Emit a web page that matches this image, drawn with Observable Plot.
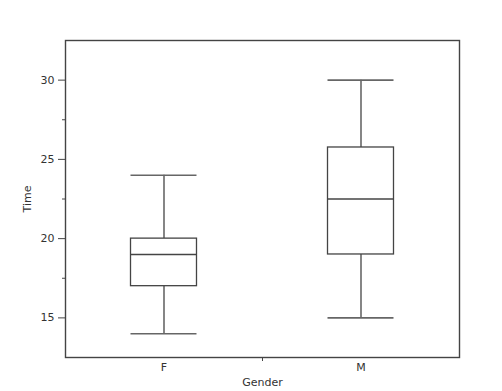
<!DOCTYPE html>
<html>
<head>
<meta charset="utf-8">
<script src="https://cdn.jsdelivr.net/npm/d3@7"></script>
<script src="https://cdn.jsdelivr.net/npm/@observablehq/plot@0.6"></script>
<style>
  html, body { margin: 0; padding: 0; background: #fff; }
  #chart svg { display: block; }
</style>
</head>
<body>
<div id="chart"></div>
<script>
const genders = ["F", "M"];
const mins    = [14, 15];
const q1s     = [17, 19];
const medians = [19, 22.5];
const q3s     = [20, 25.75];
const maxs    = [24, 30];
const majorTicks = [15, 20, 25, 30];
const minorTicks = [17.5, 22.5, 27.5];

const data = genders.map((g, i) => ({
  gender: g, pos: i + 0.5,
  min: mins[i], q1: q1s[i], median: medians[i], q3: q3s[i], max: maxs[i]
}));

const half = 0.1675; // half box width in band units
const ink = "#444";

const chart = Plot.plot({
  width: 502,
  height: 391,
  marginLeft: 65,
  marginRight: 43,
  marginTop: 40,
  marginBottom: 34,
  style: { fontFamily: "DejaVu Sans, sans-serif", fontSize: "10px", color: "#333", background: "#fff" },
  x: { domain: [0, genders.length] },
  y: { domain: [12.5, 32.5] },
  marks: [
    Plot.frame({ stroke: ink, strokeWidth: 1.4 }),
    Plot.axisY({ ticks: majorTicks, tickSize: 7, tickPadding: 4, stroke: ink, label: "Time", labelAnchor: "center", labelArrow: false, labelOffset: 42, fontSize: 11 }),
    Plot.axisY({ ticks: minorTicks, tickSize: 3, tickFormat: () => "", stroke: ink, label: null }),
    Plot.axisX({ ticks: genders.map((g, i) => i + 0.5), tickSize: 0, tickPadding: 6, tickFormat: d => genders[Math.floor(d)], label: "Gender", labelAnchor: "center", labelArrow: false, labelOffset: 28, fontSize: 11 }),
    Plot.axisX({ ticks: d3.range(1, genders.length), tickSize: 4, tickFormat: () => "", stroke: ink, label: null }),
    // whiskers
    Plot.ruleX(data, { x: "pos", y1: "min", y2: "q1", stroke: ink, strokeWidth: 1.3 }),
    Plot.ruleX(data, { x: "pos", y1: "q3", y2: "max", stroke: ink, strokeWidth: 1.3 }),
    // caps
    Plot.ruleY(data, { y: "min", x1: d => d.pos - half, x2: d => d.pos + half, stroke: "#666", strokeWidth: 1.6 }),
    Plot.ruleY(data, { y: "max", x1: d => d.pos - half, x2: d => d.pos + half, stroke: "#666", strokeWidth: 1.6 }),
    // boxes
    Plot.rect(data, { x1: d => d.pos - half, x2: d => d.pos + half, y1: "q1", y2: "q3", fill: "white", stroke: ink, strokeWidth: 1.3 }),
    // medians
    Plot.ruleY(data, { y: "median", x1: d => d.pos - half, x2: d => d.pos + half, stroke: ink, strokeWidth: 1.3 })
  ]
});
document.getElementById("chart").appendChild(chart);
</script>
</body>
</html>
